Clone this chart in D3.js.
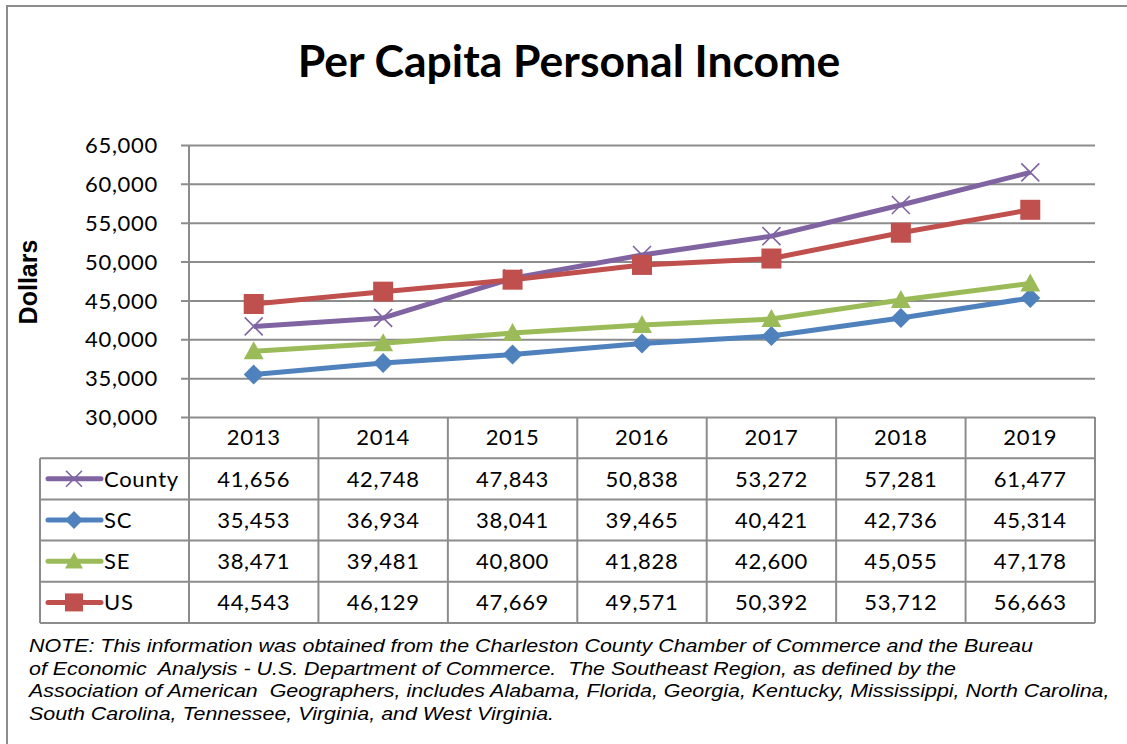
<!DOCTYPE html>
<html>
<head>
<meta charset="utf-8">
<script src="https://cdn.jsdelivr.net/npm/d3@7"></script>
<style>
  body { margin: 0; background: #fff; }
  svg { display: block; }
</style>
</head>
<body>
<svg id="chart" width="1127" height="744"></svg>
<script>
// data
var years = ["2013", "2014", "2015", "2016", "2017", "2018", "2019"];
var county = [41656, 42748, 47843, 50838, 53272, 57281, 61477];
var sc = [35453, 36934, 38041, 39465, 40421, 42736, 45314];
var se = [38471, 39481, 40800, 41828, 42600, 45055, 47178];
var us = [44543, 46129, 47669, 49571, 50392, 53712, 56663];
var yTicks = [30000, 35000, 40000, 45000, 50000, 55000, 60000, 65000];
var noteLines = [
    "NOTE: This information was obtained from the Charleston County Chamber of Commerce and the Bureau",
    "of Economic  Analysis - U.S. Department of Commerce.  The Southeast Region, as defined by the",
    "Association of American  Geographers, includes Alabama, Florida, Georgia, Kentucky, Mississippi, North Carolina,",
    "South Carolina, Tennessee, Virginia, and West Virginia."
];

var series = [
    { name: "County", values: county, color: "#8064A2", marker: "x" },
    { name: "SC", values: sc, color: "#4F81BD", marker: "diamond" },
    { name: "SE", values: se, color: "#9BBB59", marker: "triangle" },
    { name: "US", values: us, color: "#C0504D", marker: "square" }
];

var svg = d3.select("#chart");
var font = "Lato, 'Open Sans', sans-serif";
var gridColor = "#8c8c8c";
var numSize = "22px";
var numSpacing = "0.7px";

// outer frame
svg.append("rect")
    .attr("x", 7).attr("y", 6)
    .attr("width", 1140).attr("height", 760)
    .attr("fill", "none")
    .attr("stroke", gridColor)
    .attr("stroke-width", 2);

// title
svg.append("text")
    .attr("x", 569).attr("y", 77)
    .attr("text-anchor", "middle")
    .style("font-family", font)
    .style("font-weight", "bold")
    .style("font-size", "44.5px")
    .text("Per Capita Personal Income");

var plot = { left: 189, right: 1095, top: 145, bottom: 417 };

var x = d3.scaleBand().domain(years).range([plot.left, plot.right]);
var y = d3.scaleLinear().domain([30000, 65000]).range([plot.bottom, plot.top]);

// gridlines + y axis
var yAxis = d3.axisLeft(y)
    .tickValues(yTicks)
    .tickSize(-(plot.right - plot.left))
    .tickFormat(d3.format(","));

var gy = svg.append("g")
    .attr("transform", "translate(" + plot.left + ",0)")
    .call(yAxis);
gy.select(".domain").remove();
gy.selectAll(".tick line")
    .attr("x2", plot.right - plot.left)
    .attr("x1", -8)
    .attr("stroke", gridColor)
    .attr("stroke-width", 2);
gy.selectAll(".tick text")
    .attr("x", -31)
    .attr("dy", "0.35em")
    .style("font-family", font)
    .style("font-size", numSize)
    .style("letter-spacing", numSpacing)
    .attr("fill", "#000");

// vertical axis line
svg.append("line")
    .attr("x1", plot.left).attr("x2", plot.left)
    .attr("y1", plot.top).attr("y2", plot.bottom)
    .attr("stroke", gridColor).attr("stroke-width", 2);

// y label
svg.append("text")
    .attr("transform", "translate(37," + 282 + ") rotate(-90)")
    .attr("text-anchor", "middle")
    .style("font-family", "'Liberation Sans', Arial, sans-serif")
    .style("font-weight", "bold")
    .style("font-size", "25px")
    .text("Dollars");

// markers
function drawMarker(g, type, color, cx, cy, s) {
    if (type === "x") {
        g.append("path")
            .attr("d", "M" + (cx - s) + "," + (cy - s) + "L" + (cx + s) + "," + (cy + s) +
                "M" + (cx - s) + "," + (cy + s) + "L" + (cx + s) + "," + (cy - s))
            .attr("stroke", color).attr("stroke-width", 1.6).attr("fill", "none");
    } else if (type === "diamond") {
        g.append("path")
            .attr("d", "M" + cx + "," + (cy - s) + "L" + (cx + s) + "," + cy + "L" + cx + "," + (cy + s) + "L" + (cx - s) + "," + cy + "Z")
            .attr("fill", color);
    } else if (type === "triangle") {
        g.append("path")
            .attr("d", "M" + cx + "," + (cy - s) + "L" + (cx + s) + "," + (cy + s * 0.8) + "L" + (cx - s) + "," + (cy + s * 0.8) + "Z")
            .attr("fill", color);
    } else {
        g.append("rect")
            .attr("x", cx - s).attr("y", cy - s)
            .attr("width", 2 * s).attr("height", 2 * s)
            .attr("fill", color);
    }
}

var line = d3.line()
    .x(function (d, i) { return x(years[i]) + x.bandwidth() / 2; })
    .y(function (d) { return y(d); });

series.forEach(function (s) {
    var g = svg.append("g");
    g.append("path")
        .datum(s.values)
        .attr("d", line)
        .attr("fill", "none")
        .attr("stroke", s.color)
        .attr("stroke-width", 5)
        .attr("stroke-linejoin", "round");
    s.values.forEach(function (v, i) {
        drawMarker(g, s.marker, s.color, x(years[i]) + x.bandwidth() / 2, y(v), s.marker === "x" ? 9 : 10);
    });
});

// data table
var rowH = 41.2;
var tableLeft = 40;
var headerTop = plot.bottom;
var tbl = svg.append("g");

function cellText(cx, cy, txt, anchor) {
    return tbl.append("text")
        .attr("x", cx)
        .attr("y", cy)
        .attr("dy", "0.35em")
        .attr("text-anchor", anchor || "middle")
        .style("font-family", font)
        .style("font-size", numSize)
        .style("letter-spacing", numSpacing)
        .text(txt);
}

// header row with years
years.forEach(function (yr) {
    cellText(x(yr) + x.bandwidth() / 2, headerTop + rowH / 2, yr);
});

series.forEach(function (s, r) {
    var cy = headerTop + rowH * (r + 1) + rowH / 2;
    // legend key
    tbl.append("line")
        .attr("x1", 48).attr("x2", 101)
        .attr("y1", cy).attr("y2", cy)
        .attr("stroke", s.color).attr("stroke-width", 5)
        .attr("stroke-linecap", "round");
    drawMarker(tbl, s.marker, s.color, 74, cy, s.marker === "x" ? 8 : 9);
    cellText(104, cy, s.name, "start");
    s.values.forEach(function (v, i) {
        cellText(x(years[i]) + x.bandwidth() / 2, cy, d3.format(",")(v));
    });
});

// table grid
var tableBottom = headerTop + rowH * 5;
for (var r = 1; r <= 5; r++) {
    var yy = headerTop + rowH * r;
    tbl.append("line")
        .attr("x1", tableLeft).attr("x2", plot.right)
        .attr("y1", yy).attr("y2", yy)
        .attr("stroke", gridColor).attr("stroke-width", 2);
}
tbl.append("line")
    .attr("x1", tableLeft).attr("x2", tableLeft)
    .attr("y1", headerTop + rowH).attr("y2", tableBottom)
    .attr("stroke", gridColor).attr("stroke-width", 2);
years.forEach(function (yr, i) {
    tbl.append("line")
        .attr("x1", x(yr)).attr("x2", x(yr))
        .attr("y1", headerTop).attr("y2", tableBottom)
        .attr("stroke", gridColor).attr("stroke-width", 2);
});
tbl.append("line")
    .attr("x1", plot.right).attr("x2", plot.right)
    .attr("y1", headerTop).attr("y2", tableBottom)
    .attr("stroke", gridColor).attr("stroke-width", 2);

// note (text in the original is slightly stretched horizontally)
svg.append("g").selectAll("text")
    .data(noteLines)
    .enter().append("text")
    .attr("transform", function (d, i) { return "translate(29," + (652 + i * 22.5) + ") scale(1.19,1)"; })
    .style("font-family", "'Liberation Sans', Arial, sans-serif")
    .style("font-style", "italic")
    .style("font-size", "18px")
    .style("white-space", "pre")
    .text(function (d) { return d; });
</script>
</body>
</html>
